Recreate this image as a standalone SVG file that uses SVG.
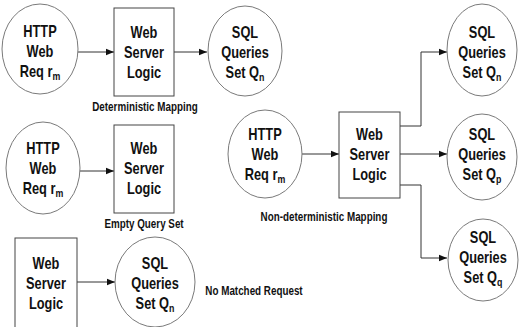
<svg xmlns="http://www.w3.org/2000/svg" width="520" height="327" viewBox="0 0 520 327">
<style>
.el{fill:#fff;stroke:#7a7a7a;stroke-width:1}
.bx{fill:#fff;stroke:#444;stroke-width:1}
.cn{fill:none;stroke:#333;stroke-width:1;marker-end:url(#ah)}
.t{font-family:"Liberation Sans",Arial,sans-serif;font-weight:bold;font-size:16px;fill:#111;text-anchor:middle}
.c{font-family:"Liberation Sans",Arial,sans-serif;font-weight:bold;font-size:12px;fill:#111;text-anchor:middle}
.s{font-size:11px}
</style>
<defs>
<marker id="ah" viewBox="0 0 8 8" refX="8" refY="4" markerWidth="8" markerHeight="8" markerUnits="userSpaceOnUse" orient="auto">
<path d="M0,0.8 L8,4 L0,7.2 Z" fill="#111"/>
</marker>
</defs>
<g id="connectors">
<line class="cn" x1="78" y1="52" x2="114" y2="52"/>
<line class="cn" x1="174" y1="52" x2="207" y2="52"/>
<line class="cn" x1="80" y1="171" x2="114" y2="171"/>
<line class="cn" x1="77" y1="282" x2="115" y2="282"/>
<line class="cn" x1="302" y1="154" x2="339" y2="154"/>
<line class="cn" x1="400" y1="154" x2="447" y2="154"/>
<polyline class="cn" points="400,126 421,126 421,52 447,52"/>
<polyline class="cn" points="400,185 421,185 421,258 447,258"/>
</g>
<g id="req1">
<ellipse class="el" cx="40" cy="49" rx="38" ry="45"/>
<g transform="translate(40,0) scale(0.8,1)"><text class="t" x="0" y="37">HTTP</text><text class="t" x="0" y="57">Web</text><text class="t" x="0" y="77">Req r<tspan class="s" dy="3">m</tspan></text></g>
</g>
<g id="logic1">
<rect class="bx" x="114" y="8" width="60" height="88"/>
<g transform="translate(144,0) scale(0.8,1)"><text class="t" x="0" y="38">Web</text><text class="t" x="0" y="58">Server</text><text class="t" x="0" y="78">Logic</text></g>
</g>
<g id="sql1">
<ellipse class="el" cx="245" cy="51" rx="37" ry="45"/>
<g transform="translate(245,0) scale(0.8,1)"><text class="t" x="0" y="38">SQL</text><text class="t" x="0" y="58">Queries</text><text class="t" x="0" y="78">Set Q<tspan class="s" dy="3">n</tspan></text></g>
</g>
<g id="cap1"><g transform="translate(145,0) scale(0.82,1)"><text class="c" x="0" y="111">Deterministic Mapping</text></g></g>
<g id="req2">
<ellipse class="el" cx="43" cy="168" rx="37" ry="46"/>
<g transform="translate(43,0) scale(0.8,1)"><text class="t" x="0" y="154">HTTP</text><text class="t" x="0" y="174">Web</text><text class="t" x="0" y="194">Req r<tspan class="s" dy="3">m</tspan></text></g>
</g>
<g id="logic2">
<rect class="bx" x="114" y="125" width="60" height="88"/>
<g transform="translate(144,0) scale(0.8,1)"><text class="t" x="0" y="154">Web</text><text class="t" x="0" y="174">Server</text><text class="t" x="0" y="194">Logic</text></g>
</g>
<g id="cap2"><g transform="translate(144,0) scale(0.82,1)"><text class="c" x="0" y="228">Empty Query Set</text></g></g>
<g id="logic3">
<rect class="bx" x="15" y="238" width="62" height="95"/>
<g transform="translate(46,0) scale(0.8,1)"><text class="t" x="0" y="269">Web</text><text class="t" x="0" y="289">Server</text><text class="t" x="0" y="309">Logic</text></g>
</g>
<g id="sql3">
<ellipse class="el" cx="155" cy="282" rx="40" ry="45"/>
<g transform="translate(155,0) scale(0.8,1)"><text class="t" x="0" y="269">SQL</text><text class="t" x="0" y="289">Queries</text><text class="t" x="0" y="309">Set Q<tspan class="s" dy="3">n</tspan></text></g>
</g>
<g id="cap3"><g transform="translate(254,0) scale(0.82,1)"><text class="c" x="0" y="295">No Matched Request</text></g></g>
<g id="req4">
<ellipse class="el" cx="265" cy="154" rx="37" ry="44"/>
<g transform="translate(265,0) scale(0.8,1)"><text class="t" x="0" y="140">HTTP</text><text class="t" x="0" y="160">Web</text><text class="t" x="0" y="180">Req r<tspan class="s" dy="3">m</tspan></text></g>
</g>
<g id="logic4">
<rect class="bx" x="339" y="112" width="61" height="86"/>
<g transform="translate(369.5,0) scale(0.8,1)"><text class="t" x="0" y="140">Web</text><text class="t" x="0" y="160">Server</text><text class="t" x="0" y="180">Logic</text></g>
</g>
<g id="cap4"><g transform="translate(324,0) scale(0.82,1)"><text class="c" x="0" y="221">Non-deterministic Mapping</text></g></g>
<g id="sql5">
<ellipse class="el" cx="482" cy="50" rx="35" ry="46"/>
<g transform="translate(482,0) scale(0.8,1)"><text class="t" x="0" y="38">SQL</text><text class="t" x="0" y="58">Queries</text><text class="t" x="0" y="78">Set Q<tspan class="s" dy="3">n</tspan></text></g>
</g>
<g id="sql6">
<ellipse class="el" cx="482" cy="157" rx="35" ry="43"/>
<g transform="translate(482,0) scale(0.8,1)"><text class="t" x="0" y="140">SQL</text><text class="t" x="0" y="160">Queries</text><text class="t" x="0" y="180">Set Q<tspan class="s" dy="3">p</tspan></text></g>
</g>
<g id="sql7">
<ellipse class="el" cx="483" cy="260" rx="35" ry="41"/>
<g transform="translate(483,0) scale(0.8,1)"><text class="t" x="0" y="243">SQL</text><text class="t" x="0" y="263">Queries</text><text class="t" x="0" y="283">Set Q<tspan class="s" dy="3">q</tspan></text></g>
</g>
</svg>
